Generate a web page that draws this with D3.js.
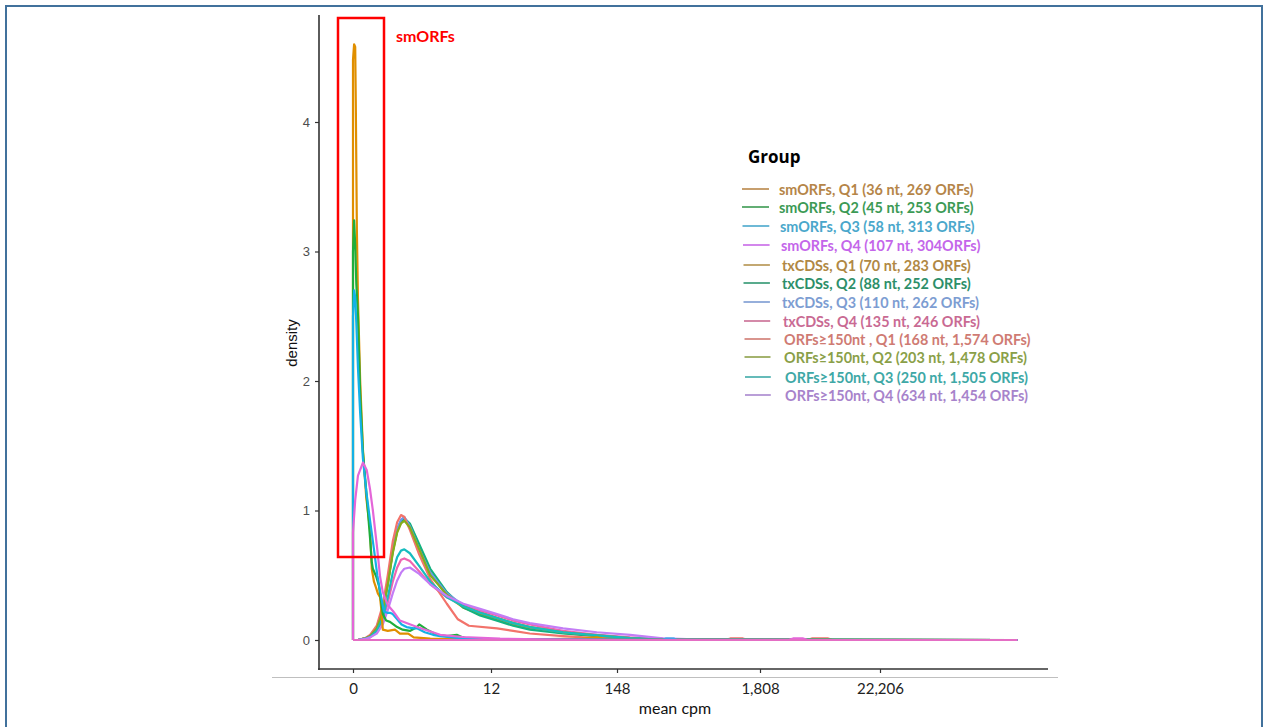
<!DOCTYPE html>
<html>
<head>
<meta charset="utf-8">
<script src="https://cdn.jsdelivr.net/npm/d3@7"></script>
<style>
  html, body { margin: 0; padding: 0; background: #fff; }
  svg { display: block; }
</style>
</head>
<body>
<svg id="chart" width="1265" height="727"></svg>
<script>
// x values are ln(mean cpm), y values are density
const xTickValues = [0, 2.5, 5, 7.5, 10];
const xTickLabels = ["0", "12", "148", "1,808", "22,206"];
const yTickValues = [0, 1, 2, 3, 4];

const groupNames = [
  "smORFs, Q1 (36 nt, 269 ORFs)",
  "smORFs, Q2 (45 nt, 253 ORFs)",
  "smORFs, Q3 (58 nt, 313 ORFs)",
  "smORFs, Q4 (107 nt, 304ORFs)",
  "txCDSs, Q1 (70 nt, 283 ORFs)",
  "txCDSs, Q2 (88 nt, 252 ORFs)",
  "txCDSs, Q3 (110 nt, 262 ORFs)",
  "txCDSs, Q4 (135 nt, 246 ORFs)",
  "ORFs\u2265150nt , Q1 (168 nt, 1,574 ORFs)",
  "ORFs\u2265150nt, Q2 (203 nt, 1,478 ORFs)",
  "ORFs\u2265150nt, Q3 (250 nt, 1,505 ORFs)",
  "ORFs\u2265150nt, Q4 (634 nt, 1,454 ORFs)"
];

// smORF density curves (spike near zero)
const smQ1x = [0, 0.02, 0.04, 0.05, 0.06, 0.07, 0.09, 0.13, 0.18, 0.24, 0.31, 0.34, 0.38, 0.42, 0.45, 0.49, 0.51, 0.54, 0.63, 0.76, 0.85, 1.0, 1.1, 1.4, 1.76, 2.3, 3.0, 4.3, 4.6, 4.8, 5.2, 6.0, 12.85];
const smQ1y = [4.48, 4.60, 4.58, 4.17, 3.68, 3.17, 2.63, 2.0, 1.47, 1.10, 0.85, 0.55, 0.45, 0.40, 0.36, 0.33, 0.25, 0.08, 0.07, 0.08, 0.05, 0.05, 0.02, 0.01, 0.008, 0.005, 0.004, 0.01, 0.02, 0.005, 0.002, 0.001, 0];

const smQ2x = [0, 0.02, 0.04, 0.06, 0.09, 0.13, 0.18, 0.25, 0.31, 0.34, 0.36, 0.42, 0.47, 0.54, 0.60, 0.67, 0.8, 0.9, 1.03, 1.16, 1.2, 1.34, 1.52, 1.7, 1.88, 1.99, 2.1, 2.6, 12.85];
const smQ2y = [3.0, 3.24, 3.05, 2.75, 2.5, 1.9, 1.45, 1.10, 0.78, 0.60, 0.55, 0.49, 0.42, 0.20, 0.15, 0.14, 0.10, 0.08, 0.07, 0.10, 0.12, 0.08, 0.04, 0.03, 0.04, 0.02, 0.01, 0.005, 0];

const smQ3x = [0, 0.02, 0.04, 0.06, 0.09, 0.13, 0.18, 0.24, 0.31, 0.38, 0.44, 0.49, 0.56, 0.62, 0.67, 0.72, 0.8, 0.88, 0.97, 1.1, 1.16, 1.3, 1.45, 1.58, 1.8, 2.0, 2.5, 5.8, 5.85, 6.0, 6.05, 12.85];
const smQ3y = [2.5, 2.70, 2.65, 2.45, 2.1, 1.75, 1.40, 1.15, 0.92, 0.70, 0.50, 0.38, 0.22, 0.21, 0.21, 0.20, 0.16, 0.12, 0.10, 0.09, 0.09, 0.06, 0.04, 0.03, 0.02, 0.01, 0.005, 0.002, 0.01, 0.01, 0.002, 0];

const smQ4x = [0, 0.04, 0.09, 0.18, 0.25, 0.31, 0.36, 0.44, 0.49, 0.54, 0.63, 0.73, 0.85, 1.16, 1.58, 1.99, 2.68, 3.5, 5.0, 8.1, 8.19, 8.4, 8.48, 12.85];
const smQ4y = [0.83, 1.08, 1.27, 1.37, 1.31, 1.16, 1.0, 0.70, 0.49, 0.37, 0.27, 0.22, 0.15, 0.10, 0.04, 0.023, 0.01, 0.005, 0.002, 0.002, 0.012, 0.012, 0.002, 0];

// longer ORF classes share one x grid
const gridX = [0, 0.1, 0.22, 0.31, 0.43, 0.54, 0.63, 0.72, 0.80, 0.87, 0.93, 1.03, 1.2, 1.4, 1.7, 2.0, 2.3, 2.62, 2.94, 3.27, 3.93, 4.6, 5.23, 5.8, 6.5, 7.5, 12.85];
const txQ1y = [0, 0.002, 0.012, 0.03, 0.09, 0.22, 0.43, 0.68, 0.84, 0.91, 0.93, 0.89, 0.72, 0.52, 0.34, 0.25, 0.20, 0.16, 0.12, 0.09, 0.055, 0.03, 0.012, 0.006, 0.002, 0.001, 0];
const txQ2y = [0, 0.002, 0.012, 0.03, 0.09, 0.23, 0.44, 0.69, 0.85, 0.92, 0.94, 0.90, 0.74, 0.55, 0.37, 0.25, 0.19, 0.15, 0.11, 0.08, 0.05, 0.03, 0.012, 0.005, 0.002, 0.001, 0];
const txQ3y = [0, 0.002, 0.012, 0.035, 0.10, 0.24, 0.45, 0.70, 0.86, 0.93, 0.95, 0.88, 0.70, 0.52, 0.36, 0.27, 0.22, 0.17, 0.13, 0.10, 0.06, 0.04, 0.015, 0.008, 0.003, 0.001, 0];
const txQ4y = [0, 0.002, 0.008, 0.02, 0.06, 0.15, 0.29, 0.45, 0.56, 0.62, 0.63, 0.61, 0.53, 0.43, 0.33, 0.27, 0.23, 0.19, 0.15, 0.12, 0.07, 0.04, 0.02, 0.008, 0.003, 0.001, 0];
const lgQ1x = [0, 0.1, 0.22, 0.31, 0.43, 0.54, 0.63, 0.72, 0.80, 0.87, 0.93, 1.03, 1.2, 1.4, 1.7, 1.9, 2.1, 2.62, 2.94, 3.27, 3.93, 4.6, 5.23, 5.8, 6.5, 6.9, 6.98, 7.2, 7.28, 8.5, 8.58, 8.92, 9.0, 12.85];
const lgQ1y = [0, 0.002, 0.015, 0.04, 0.11, 0.27, 0.50, 0.76, 0.91, 0.965, 0.95, 0.85, 0.66, 0.47, 0.28, 0.16, 0.11, 0.09, 0.07, 0.05, 0.03, 0.015, 0.008, 0.004, 0.002, 0.001, 0.012, 0.012, 0.001, 0.001, 0.012, 0.012, 0.001, 0];
const lgQ2y = [0, 0.002, 0.012, 0.03, 0.09, 0.22, 0.43, 0.67, 0.83, 0.90, 0.92, 0.87, 0.70, 0.50, 0.35, 0.26, 0.21, 0.17, 0.13, 0.10, 0.06, 0.035, 0.015, 0.007, 0.003, 0.001, 0];
const lgQ3y = [0, 0.002, 0.01, 0.025, 0.07, 0.17, 0.33, 0.52, 0.64, 0.69, 0.70, 0.67, 0.57, 0.45, 0.33, 0.26, 0.21, 0.17, 0.13, 0.10, 0.06, 0.035, 0.015, 0.007, 0.003, 0.001, 0];
const lgQ4y = [0, 0.002, 0.008, 0.02, 0.05, 0.12, 0.23, 0.36, 0.46, 0.52, 0.55, 0.56, 0.51, 0.43, 0.34, 0.28, 0.24, 0.20, 0.16, 0.13, 0.09, 0.06, 0.04, 0.012, 0.004, 0.001, 0];

const curveColors = ["#e08f00", "#1fae3c", "#14b1e6", "#e466d8",
                     "#c0a000", "#13b27f", "#6b98f0", "#ef64b0",
                     "#f2736b", "#86ad1c", "#17bcbf", "#c37df6"];
const legendLineColors = ["#b9884a", "#3d9a52", "#4aa8cc", "#c86ae8",
                          "#b4924e", "#2f9670", "#7b9bd2", "#c96c94",
                          "#d07a72", "#8da04a", "#3eaaa8", "#a987cf"];
const legendTextColors = ["#b58548", "#3c9a55", "#4aa7cb", "#c466ea",
                          "#b08844", "#2d8f69", "#7d9dd2", "#c96a93",
                          "#cf7b73", "#8a9f48", "#3ea8a6", "#a783cb"];

const curveX = [smQ1x, smQ2x, smQ3x, smQ4x, gridX, gridX, gridX, gridX, lgQ1x, gridX, gridX, gridX];
const curveY = [smQ1y, smQ2y, smQ3y, smQ4y, txQ1y, txQ2y, txQ3y, txQ4y, lgQ1y, lgQ2y, lgQ3y, lgQ4y];

const svg = d3.select("#chart");

// outer frame
svg.append("rect")
  .attr("x", 6).attr("y", 6).attr("width", 1256).attr("height", 740)
  .attr("fill", "none").attr("stroke", "#41719c").attr("stroke-width", 2);

const x = d3.scaleLinear().domain(xTickValues).range([353, 491, 617, 760, 880]);
const y = d3.scaleLinear().domain([0, 4]).range([640, 122]);

// density outlines: each closed along the baseline like a polygon
const line = d3.line().x(d => x(d[0])).y(d => y(d[1]));
const drawOrder = [4, 5, 6, 7, 8, 9, 10, 11, 0, 1, 2, 3];
const curves = svg.append("g").attr("fill", "none").attr("stroke-width", 2.2).attr("stroke-linejoin", "round");
drawOrder.forEach(i => {
  const xs = curveX[i], ys = curveY[i];
  const pts = [[xs[0], 0]].concat(xs.map((v, k) => [v, ys[k]]));
  pts.push([xs[xs.length - 1], 0]);
  pts.push([xs[0], 0]);
  curves.append("path").attr("d", line(pts)).attr("stroke", curveColors[i]);
});
// baseline
curves.append("path")
  .attr("d", line([[0, 0], [smQ4x[smQ4x.length - 1], 0]]))
  .attr("stroke", "#e46ec4");

// y axis
const yAxis = svg.append("g").attr("transform", "translate(319,0)")
  .call(d3.axisLeft(y).tickValues(yTickValues).tickSize(4).tickPadding(5).tickFormat(d3.format("d")));
yAxis.select(".domain").remove();
yAxis.selectAll(".tick line").attr("stroke", "#333").attr("stroke-width", 1.2);
yAxis.selectAll(".tick text").attr("fill", "#4d4d4d").style("font-family", "'Liberation Sans', Arial, sans-serif").style("font-size", "13px");
svg.append("line").attr("x1", 319).attr("x2", 319).attr("y1", 15).attr("y2", 670)
  .attr("stroke", "#333").attr("stroke-width", 1.6);

// x axis
svg.append("line").attr("x1", 318).attr("x2", 1048).attr("y1", 669).attr("y2", 669)
  .attr("stroke", "#333").attr("stroke-width", 1.6);
svg.append("line").attr("x1", 272).attr("x2", 1058).attr("y1", 677.5).attr("y2", 677.5)
  .attr("stroke", "#bfbfbf").attr("stroke-width", 1);
const xAxis = svg.append("g").attr("transform", "translate(0,669)")
  .call(d3.axisBottom(x).tickValues(xTickValues).tickSize(4).tickPadding(10)
    .tickFormat((d, i) => xTickLabels[i]));
xAxis.select(".domain").remove();
xAxis.selectAll(".tick line").attr("stroke", "#333").attr("stroke-width", 1.2);
xAxis.selectAll(".tick text").attr("fill", "#222").style("font-family", "Lato, sans-serif").style("font-size", "15px");

// axis titles
svg.append("text").attr("x", 675).attr("y", 714).attr("text-anchor", "middle")
  .style("font-family", "Lato, sans-serif").style("font-size", "16px").attr("fill", "#111")
  .text("mean cpm");
svg.append("text").attr("transform", "translate(297,343) rotate(-90)").attr("text-anchor", "middle")
  .style("font-family", "'Liberation Sans', Arial, sans-serif").style("font-size", "15px").attr("fill", "#111")
  .text("density");

// highlight box
svg.append("rect").attr("x", 338).attr("y", 18).attr("width", 46).attr("height", 539)
  .attr("fill", "none").attr("stroke", "#ff0000").attr("stroke-width", 2.5);
svg.append("text").attr("x", 396).attr("y", 42)
  .style("font-family", "Lato, sans-serif").style("font-weight", "bold").style("font-size", "16px")
  .attr("fill", "#ff0000").text("smORFs");

// legend
svg.append("text").attr("x", 748).attr("y", 163)
  .style("font-family", "'Open Sans', sans-serif").style("font-weight", "bold").style("font-size", "17px")
  .attr("fill", "#000").text("Group");
const legendY = [190, 208, 227, 246, 266, 284, 303, 322, 340, 358, 378, 396];
const legendDx = [0, 0, 1, 2, 3, 3, 3, 4, 5, 5, 6, 6];
const lg = svg.append("g");
groupNames.forEach((name, i) => {
  lg.append("line")
    .attr("x1", 742 + legendDx[i] * 0.5).attr("x2", 769 + legendDx[i] * 0.3)
    .attr("y1", legendY[i] - 1).attr("y2", legendY[i] - 1)
    .attr("stroke", legendLineColors[i]).attr("stroke-width", 1.6);
  lg.append("text").attr("x", 779 + legendDx[i]).attr("y", legendY[i] + 5)
    .style("font-family", "Lato, sans-serif").style("font-weight", "bold").style("font-size", "14.4px")
    .attr("fill", legendTextColors[i]).text(name);
});
</script>
</body>
</html>
